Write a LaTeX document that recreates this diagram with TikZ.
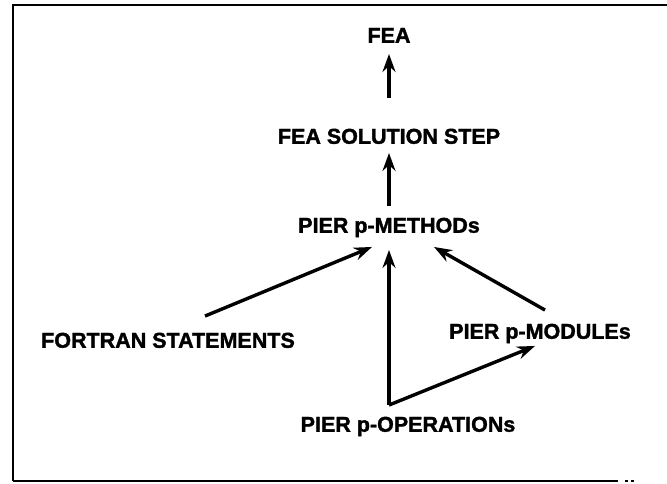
\documentclass[tikz,border=0pt]{standalone}
\usepackage{fontspec}
\setmainfont{Liberation Sans}
\newfontfamily\heavyfont{Liberation Sans Bold}[FakeBold=1.6]
\usetikzlibrary{arrows.meta}
\tikzset{
  label/.style={font=\heavyfont\fontsize{21.5}{24}\selectfont, inner sep=0pt,
                text height=15.5pt, text depth=0pt},
  arr/.style={line width=3.4pt, -{Stealth[length=18pt,width=13pt,inset=6pt]}},
  frame/.style={line width=2.5pt},
}
\begin{document}
\begin{tikzpicture}[x=1pt,y=-1pt]
  \useasboundingbox (0,0) rectangle (667,483);
  % open frame: top, left and bottom edges
  \draw[frame] (667,5) -- (13,5) -- (13,481);
  \draw[line width=1.6pt] (13,481) -- (618,481);
  \draw[line width=1.2pt] (625,481) -- (628,481) (631,481) -- (634,481);

  \node[label] (fea)     at (389,35)  {FEA};
  \node[label] (fss)     at (389,136) {FEA SOLUTION STEP};
  \node[label] (meth)    at (389,225) {PIER p-METHODs};
  \node[label] (fortran) at (168,340) {FORTRAN STATEMENTS};
  \node[label] (modules) at (540,331) {PIER p-MODULEs};
  \node[label] (ops)     at (408,424) {PIER p-OPERATIONs};

  \coordinate (fork) at ([shift={(-19pt,11pt)}]ops.north);

  \draw[arr] ([yshift=30pt]fss.north) -- ([yshift=-11pt]fea.south);
  \draw[arr] ([yshift=11pt]meth.north) -- ([yshift=-9pt]fss.south);
  \draw[arr] ([shift={(37pt,16pt)}]fortran.north) -- ([shift={(-17pt,-14pt)}]meth.south);
  \draw[arr] ([shift={(5pt,13pt)}]modules.north) -- ([shift={(45pt,-14pt)}]meth.south);
  \draw[arr] (fork) -- ([yshift=-17pt]meth.south);
  \draw[arr] (fork) -- ([shift={(-5pt,-7pt)}]modules.south);
\end{tikzpicture}
\end{document}
